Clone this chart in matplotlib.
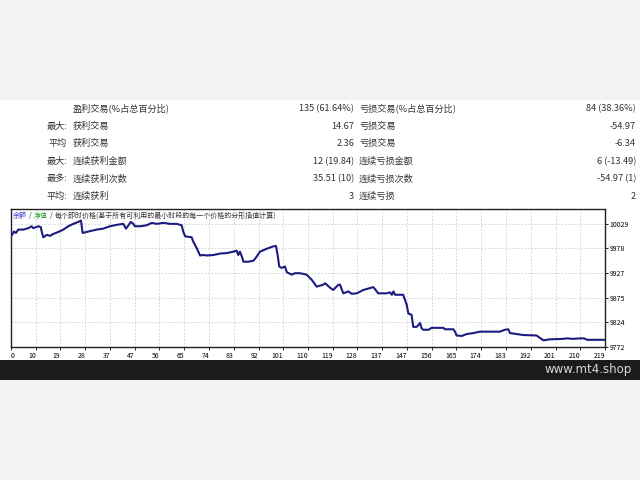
import matplotlib
matplotlib.use('Agg')
import matplotlib.pyplot as plt
import numpy as np

plt.rcParams['font.family'] = ['Noto Sans CJK SC', 'DejaVu Sans']

# summary table
prefix = ['', '最大:', '平均', '最大:', '最多:', '平均:']
label1 = ['盈利交易(%占总百分比)', '获利交易', '获利交易', '连续获利金额', '连续获利次数', '连续获利']
value1 = ['135 (61.64%)', '14.67', '2.36', '12 (19.84)', '35.51 (10)', '3']
label2 = ['亏损交易(%占总百分比)', '亏损交易', '亏损交易', '连续亏损金额', '连续亏损次数', '连续亏损']
value2 = ['84 (38.36%)', '-54.97', '-6.34', '6 (-13.49)', '-54.97 (1)', '2']

# balance curve
trade_no = [0, 1.1, 1.8, 2.7, 4.5, 6.4, 7.6, 8.2, 10.1, 11.0,
            11.3, 11.9, 13.2, 14.4, 15.6, 17.4, 19.3, 21.1, 23.0, 24.8,
            25.8, 26.4, 28.5, 31.6, 34.0, 36.5, 39.0, 41.4, 42.4, 43.3,
            44.2, 45.1, 45.7, 47.6, 50.0, 51.9, 53.7, 56.2, 58.6, 61.1,
            62.9, 63.5, 64.2, 66.6, 67.2, 68.5, 69.7, 70.9, 72.2, 74.6,
            77.1, 79.5, 82.0, 83.2, 83.8, 84.4, 85.1, 85.7, 87.5, 89.3,
            90.0, 91.8, 94.3, 96.7, 97.7, 98.3, 98.9, 99.8, 101.0, 101.7,
            103.5, 104.7, 106.6, 109.0, 110.9, 112.7, 115.1, 115.8, 117.6, 118.8,
            120.7, 121.3, 122.5, 124.4, 125.6, 127.5, 129.9, 132.4, 133.6, 135.4,
            138.5, 139.7, 140.4, 141.0, 141.6, 144.6, 145.9, 146.5, 147.7, 148.3,
            149.6, 150.8, 151.4, 152.0, 153.9, 155.1, 159.4, 160.0, 163.1, 163.7,
            164.3, 166.2, 168.0, 170.4, 172.9, 180.3, 182.1, 183.3, 184.0, 186.4,
            188.9, 193.8, 195.0, 196.3, 197.5, 198.7, 203.6, 204.9, 207.3, 209.8,
            211.3, 212.4, 219]
equity = [10003, 10013, 10010, 10017, 10017, 10020, 10024, 10020, 10024, 10022,
          10013, 10001, 10006, 10004, 10008, 10012, 10017, 10024, 10029, 10033,
          10036, 10010, 10013, 10017, 10019, 10024, 10027, 10029, 10019, 10026,
          10033, 10029, 10024, 10024, 10026, 10031, 10029, 10031, 10029, 10029,
          10026, 10013, 10003, 10001, 9992, 9978, 9963, 9964, 9963, 9964,
          9967, 9968, 9971, 9973, 9964, 9971, 9961, 9950, 9950, 9952,
          9956, 9971, 9977, 9982, 9983, 9964, 9940, 9937, 9940, 9928,
          9923, 9926, 9926, 9923, 9912, 9898, 9902, 9905, 9896, 9891,
          9902, 9902, 9884, 9888, 9883, 9884, 9891, 9895, 9897, 9884,
          9884, 9886, 9881, 9888, 9881, 9881, 9860, 9842, 9839, 9814,
          9814, 9822, 9811, 9808, 9808, 9812, 9812, 9809, 9809, 9804,
          9796, 9795, 9799, 9801, 9804, 9804, 9808, 9809, 9801, 9799,
          9797, 9796, 9791, 9786, 9787, 9788, 9789, 9790, 9789, 9790,
          9790, 9787, 9787]

x_labels = ['0', '10', '19', '28', '37', '47', '56', '65', '74', '83', '92', '101', '110',
            '119', '128', '137', '147', '156', '165', '174', '183', '192', '201', '210', '219']
y_ticks = [9772, 9824, 9875, 9927, 9978, 10029]

W, H = 640, 480


def fx(px):
    return px / W


def fy(py):
    return 1 - py / H


fig = plt.figure(figsize=(6.4, 4.8), dpi=100)
fig.patch.set_facecolor('#f2f3f5')

# white page and black footer strip
fig.add_artist(plt.Rectangle((0, fy(360)), 1, fy(100) - fy(360), transform=fig.transFigure,
                             facecolor='white', edgecolor='none', zorder=0))
fig.add_artist(plt.Rectangle((0, fy(380)), 1, fy(360) - fy(380), transform=fig.transFigure,
                             facecolor='#1b1b1b', edgecolor='none', zorder=0))
fig.text(fx(632), fy(370), 'www.mt4.shop', color='#d8d8d8', fontsize=8.5,
         ha='right', va='center', family=['DejaVu Sans'])

# table
txt = '#333333'
fs = 6.6
for i in range(len(label1)):
    y = fy(108.5 + i * 17.6)
    fig.text(fx(67), y, prefix[i], ha='right', va='center', fontsize=fs, color=txt)
    fig.text(fx(73), y, label1[i], ha='left', va='center', fontsize=fs, color=txt)
    fig.text(fx(354), y, value1[i], ha='right', va='center', fontsize=fs, color=txt)
    fig.text(fx(359), y, label2[i], ha='left', va='center', fontsize=fs, color=txt)
    fig.text(fx(636), y, value2[i], ha='right', va='center', fontsize=fs, color=txt)

# chart
ax = fig.add_axes([fx(11), fy(347), fx(605) - fx(11), fy(209) - fy(347)])
ax.set_facecolor('white')
ax.plot(trade_no, equity, color='#1c1c80', lw=1.5, zorder=3)
ax.set_xlim(0, 219)
ax.set_ylim(9772, 10060)

xt = np.linspace(0, 219, len(x_labels))
ax.set_xticks(xt)
ax.set_xticklabels(x_labels, fontsize=5, ha='right')
ax.get_xticklabels()[0].set_ha('left')
ax.set_yticks(y_ticks)
ax.set_yticklabels([str(v) for v in y_ticks], fontsize=5)
ax.yaxis.tick_right()
ax.tick_params(axis='both', length=2, width=0.6, pad=1.5, colors='black')
ax.grid(True, color='#cccccc', linestyle=(0, (2, 2)), lw=0.6)
for s in ax.spines.values():
    s.set_color('#222222')
    s.set_linewidth(1.0)

# legend line at top of chart
ty = fy(216)
tfs = 5.0
fig.text(fx(13), ty, '余额', color='#3a3ad0', fontsize=tfs, va='center')
fig.text(fx(29), ty, '/', color=txt, fontsize=tfs, va='center')
fig.text(fx(34), ty, '净值', color='#2e9a2e', fontsize=tfs, va='center')
fig.text(fx(50), ty, '/', color=txt, fontsize=tfs, va='center')
fig.text(fx(55), ty, '每个即时价格(基于所有可利用的最小时段的每一个价格的分形插值计算)',
         color=txt, fontsize=tfs, va='center')

plt.savefig('out.png', dpi=100, facecolor=fig.get_facecolor())
